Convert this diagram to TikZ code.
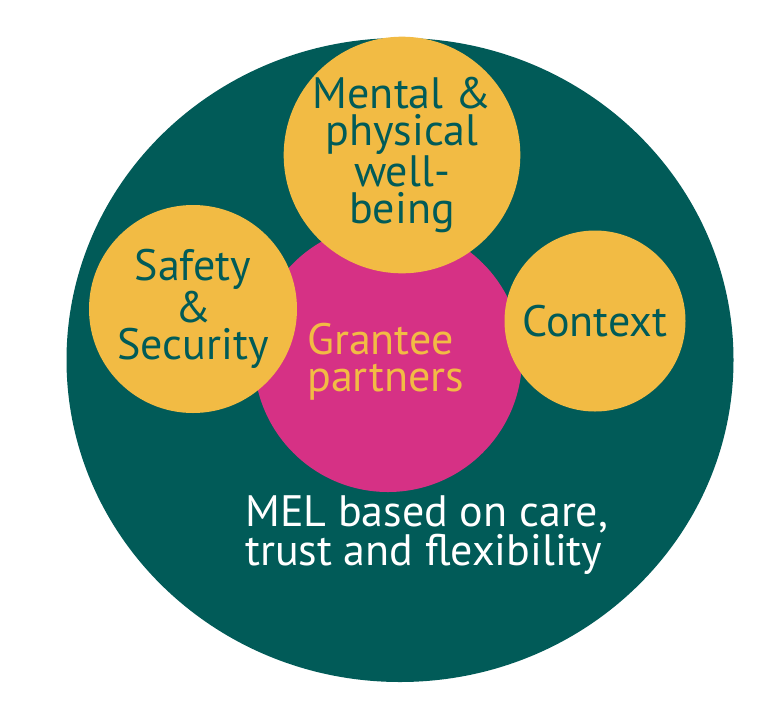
\documentclass[tikz,border=0pt]{standalone}
\usepackage{fontspec}
\setmainfont{PT Sans}
\usetikzlibrary{shapes.geometric}
\definecolor{melteal}{HTML}{015B58}
\definecolor{sunny}{HTML}{F2BB44}
\definecolor{berry}{HTML}{D63185}
\begin{document}
\begin{tikzpicture}[x=1pt,y=-1pt,
		bubble/.style={circle,fill=sunny,text=melteal,align=center,inner sep=0pt,font=\fontsize{44}{37}\selectfont},
		big/.style={font=\fontsize{44}{37}\selectfont}]
				\useasboundingbox (0,0) rectangle (765,702);
				\node[ellipse,fill=melteal,minimum width=667pt,minimum height=644pt] (mel) at (400,360) {};
				\node[circle,fill=berry,minimum size=268pt] (grantee) at (388,358) {};
				\node[big,text=sunny,align=left,anchor=base west,inner sep=0pt] (granteetext) at (307,391) {Grantee\\partners};
				\node[bubble,minimum size=236pt] (wellbeing) at (402,155) {Mental \&\\physical\\well-\\being};
				\node[bubble,minimum size=208pt] (safety) at (193,309) {Safety\\\&\\Security};
				\node[bubble,minimum size=181pt] (context) at (595,321) {Context};
				\node[big,text=white,align=left,anchor=base west,inner sep=0pt] (meltext) at (245,565) {MEL based on care,\\trust and flexibility};

			\end{tikzpicture}
\end{document}
